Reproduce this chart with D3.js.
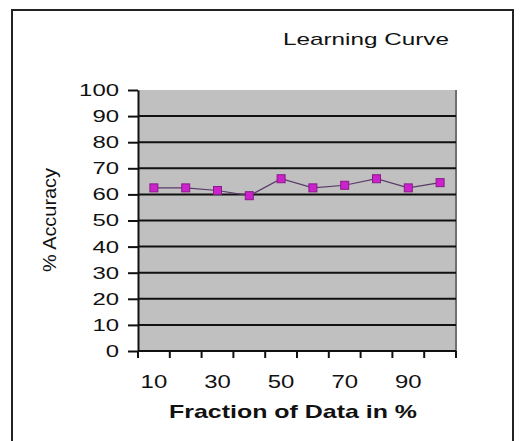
<!DOCTYPE html>
<html>
<head>
<meta charset="utf-8">
<script src="https://cdn.jsdelivr.net/npm/d3@7"></script>
<style>
    body { margin: 0; background: #fff; }
    svg { display: block; }
</style>
</head>
<body>
<div id="chart"></div>
<script>
// data
const fractions = [10, 20, 30, 40, 50, 60, 70, 80, 90, 100];
const accuracy = [62.5, 62.5, 61.5, 59.5, 66, 62.5, 63.5, 66, 62.5, 64.5];
const yTicks = [0, 10, 20, 30, 40, 50, 60, 70, 80, 90, 100];
const xLabels = [10, 30, 50, 70, 90];

const width = 526, height = 441;
const plot = { left: 138, top: 90, right: 456, bottom: 351 };
const font = "Liberation Sans, Arial, sans-serif";
const digitW = 13.3; // the original text is stretched wide

const svg = d3.select("#chart")
    .append("svg")
    .attr("width", width)
    .attr("height", height);

// outer frame
svg.append("rect")
    .attr("x", 12).attr("y", 10)
    .attr("width", 501).attr("height", 440)
    .attr("fill", "none")
    .attr("stroke", "#222")
    .attr("stroke-width", 2);

// title
svg.append("text")
    .attr("x", 366).attr("y", 45)
    .attr("text-anchor", "middle")
    .attr("textLength", 166)
    .attr("lengthAdjust", "spacingAndGlyphs")
    .style("font-family", font)
    .style("font-size", "17px")
    .attr("fill", "#111")
    .text("Learning Curve");

const x = d3.scaleBand()
    .domain(fractions)
    .range([plot.left, plot.right]);

const y = d3.scaleLinear()
    .domain([0, 100])
    .range([plot.bottom, plot.top]);

// plot background
svg.append("rect")
    .attr("x", plot.left).attr("y", plot.top)
    .attr("width", plot.right - plot.left)
    .attr("height", plot.bottom - plot.top)
    .attr("fill", "#c0c0c0");

// right edge of plot area
svg.append("line")
    .attr("x1", plot.right).attr("x2", plot.right)
    .attr("y1", plot.top).attr("y2", plot.bottom)
    .attr("stroke", "#707070")
    .attr("stroke-width", 2);

// gridlines
svg.selectAll("line.grid")
    .data(yTicks.filter(d => d > 0 && d < 100))
    .join("line")
    .attr("class", "grid")
    .attr("x1", plot.left).attr("x2", plot.right)
    .attr("y1", d => y(d)).attr("y2", d => y(d))
    .attr("stroke", "#111")
    .attr("stroke-width", 2);

// y axis
const yAxis = svg.append("g")
    .attr("transform", `translate(${plot.left},0)`)
    .call(d3.axisLeft(y).tickValues(yTicks).tickSize(10).tickPadding(9).tickSizeOuter(0));
yAxis.select(".domain").attr("stroke", "#111").attr("stroke-width", 2);
yAxis.selectAll(".tick line").attr("stroke", "#111").attr("stroke-width", 2);
yAxis.selectAll("text")
    .attr("textLength", d => String(d).length * digitW)
    .attr("lengthAdjust", "spacingAndGlyphs")
    .style("font-family", font)
    .style("font-size", "17px")
    .attr("fill", "#111");

// x axis: ticks on band boundaries, labels on every other category
const bounds = fractions.map(d => x(d)).concat([plot.right]);
const xAxis = svg.append("g");
xAxis.append("line")
    .attr("x1", plot.left).attr("x2", plot.right)
    .attr("y1", plot.bottom).attr("y2", plot.bottom)
    .attr("stroke", "#111").attr("stroke-width", 2);
xAxis.selectAll("line.tick")
    .data(bounds)
    .join("line")
    .attr("class", "tick")
    .attr("x1", d => d).attr("x2", d => d)
    .attr("y1", plot.bottom).attr("y2", plot.bottom + 7)
    .attr("stroke", "#111").attr("stroke-width", 2);
xAxis.selectAll("text")
    .data(xLabels)
    .join("text")
    .attr("x", d => x(d) + x.bandwidth() / 2)
    .attr("y", 388)
    .attr("text-anchor", "middle")
    .attr("textLength", d => String(d).length * digitW)
    .attr("lengthAdjust", "spacingAndGlyphs")
    .style("font-family", font)
    .style("font-size", "18px")
    .attr("fill", "#111")
    .text(d => d);

// axis titles
svg.append("text")
    .attr("transform", "translate(56,220) rotate(-90)")
    .attr("text-anchor", "middle")
    .attr("textLength", 104)
    .attr("lengthAdjust", "spacingAndGlyphs")
    .style("font-family", font)
    .style("font-size", "19px")
    .attr("fill", "#111")
    .text("% Accuracy");

svg.append("text")
    .attr("x", 293).attr("y", 418)
    .attr("text-anchor", "middle")
    .attr("textLength", 248)
    .attr("lengthAdjust", "spacingAndGlyphs")
    .style("font-family", font)
    .style("font-size", "19px")
    .style("font-weight", "bold")
    .attr("fill", "#111")
    .text("Fraction of Data in %");

// series
const pts = fractions.map((f, i) => [x(f) + x.bandwidth() / 2, y(accuracy[i])]);

svg.append("path")
    .attr("d", d3.line()(pts))
    .attr("fill", "none")
    .attr("stroke", "#5a3a6a")
    .attr("stroke-width", 1.2);

svg.selectAll("rect.pt")
    .data(pts)
    .join("rect")
    .attr("class", "pt")
    .attr("x", d => d[0] - 4).attr("y", d => d[1] - 4)
    .attr("width", 8).attr("height", 8)
    .attr("fill", "#cc22cc")
    .attr("stroke", "#8a1a8a")
    .attr("stroke-width", 1);
</script>
</body>
</html>
